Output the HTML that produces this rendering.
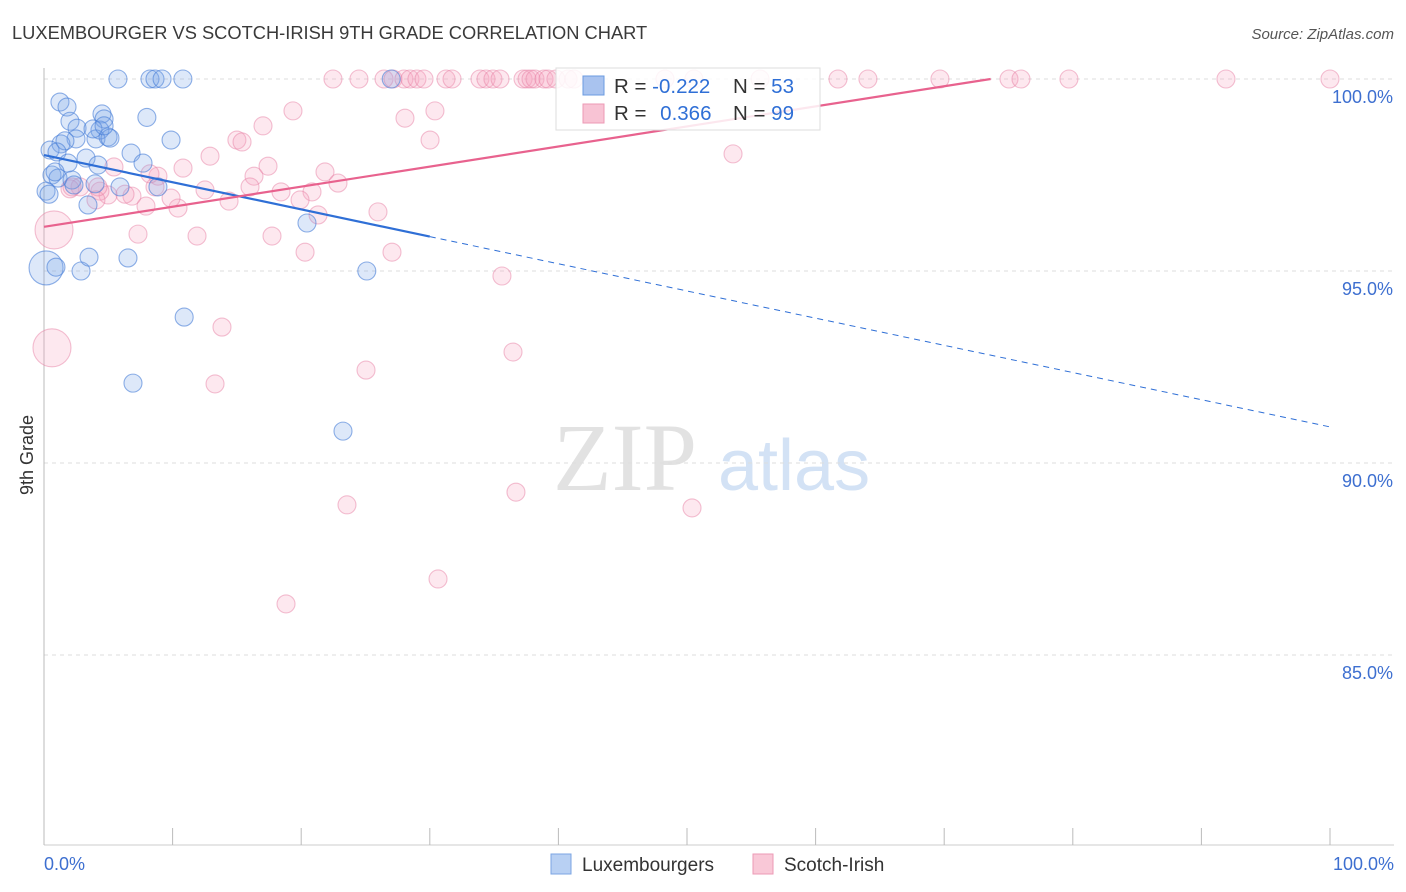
<!DOCTYPE html>
<html><head><meta charset="utf-8">
<style>
body{margin:0;background:#fff;font-family:"Liberation Sans",sans-serif;}
svg{display:block}
</style></head>
<body>
<svg id="chart" width="1406" height="892">
<text x="12" y="39" font-size="18.3" fill="#3a3a3a">LUXEMBOURGER VS SCOTCH-IRISH 9TH GRADE CORRELATION CHART</text>
<text x="1394" y="39" font-size="15" fill="#555" font-style="italic" text-anchor="end">Source: ZipAtlas.com</text>
<text x="33" y="455" font-size="18" fill="#333" text-anchor="middle" transform="rotate(-90 33 455)">9th Grade</text>
<g>
<text x="553" y="490" font-size="96" font-family="Liberation Serif,serif" fill="#e2e2e2">ZIP</text>
<text x="718" y="490" font-size="72" fill="#d3e2f5">atlas</text>
</g>
<g id="grid"></g>
<g id="axes"></g>
<g id="pts"></g>
<g id="lines"></g>
<g>
<rect x="556" y="68" width="264" height="62" fill="#fff" fill-opacity="0.85" stroke="#ddd"/>
<rect x="583" y="76" width="21" height="19" fill="#a9c3ef" stroke="#6b9be0"/>
<rect x="583" y="104" width="21" height="19" fill="#f8c3d4" stroke="#ec9ab5"/>
<text x="614" y="93" font-size="20.5" fill="#333">R = <tspan fill="#2f6fd6">-0.222</tspan></text>
<text x="733" y="93" font-size="20.5" fill="#333">N = <tspan fill="#2f6fd6">53</tspan></text>
<text x="614" y="120" font-size="20.5" fill="#333">R = <tspan fill="#2f6fd6" dx="8">0.366</tspan></text>
<text x="733" y="120" font-size="20.5" fill="#333">N = <tspan fill="#2f6fd6">99</tspan></text>
</g>
<g>
<rect x="551" y="854" width="20" height="20" fill="#b8d0f3" stroke="#7ba5e3"/>
<text x="582" y="871" font-size="19" fill="#333">Luxembourgers</text>
<rect x="753" y="854" width="20" height="20" fill="#f9c8d7" stroke="#ec9ab5"/>
<text x="784" y="871" font-size="19" fill="#333">Scotch-Irish</text>
</g>
</svg>
<script>
const yTicks=[100,95,90,85];
const yTickLabels=["100.0%","95.0%","90.0%","85.0%"];
const xTicks=[0,10,20,30,40,50,60,70,80,90,100];
const xLabels=["0.0%","100.0%"];
const luxX=[5.75,8.24,8.63,9.18,10.8,27.0,1.24,1.79,2.02,2.57,4.51,4.67,4.35,2.49,4.04,4.98,8.0,1.32,1.63,9.88,0.47,1.01,6.77,3.27,1.87,4.2,7.7,0.62,1.09,2.18,3.97,5.91,8.86,0.16,3.42,20.45,0.16,0.93,2.88,3.5,6.53,25.1,10.9,6.92,23.25,0.86,2.33,5.13,0.39,3.81,4.67];
const luxY=[100,100,100,100,100,100,99.4,99.27,98.9,98.72,99.09,98.96,98.67,98.44,98.44,98.49,99.0,98.31,98.39,98.41,98.15,98.1,98.07,97.94,97.81,97.76,97.81,97.5,97.42,97.37,97.27,97.19,97.19,97.08,96.72,96.25,95.08,95.1,95.0,95.36,95.34,95.0,93.8,92.08,90.83,97.58,97.24,98.46,97.0,98.7,98.78];
const luxSize=[1,1,1,1,1,1,1,1,1,1,1,1,1,1,1,1,1,1,1,1,1,1,1,1,1,1,1,1,1,1,1,1,1,1,1,1,2,1,1,1,1,1,1,1,1,1,1,1,1,1,1];
const scX=[22.47,24.49,26.44,27.14,27.99,28.46,29.0,29.55,31.26,31.73,33.9,34.37,34.91,35.46,37.25,37.56,37.87,38.18,38.88,39.19,39.81,40.75,41.21,48.29,50.54,55.68,61.74,64.07,69.67,75.04,75.97,79.7,91.91,100,
19.36,28.07,30.4,30.02,17.03,15.0,15.4,12.91,10.81,17.42,21.85,22.86,16.33,53.58,8.86,8.63,6.84,4.98,6.3,4.35,2.8,2.02,4.04,5.44,7.93,10.42,9.88,12.52,14.39,16.02,18.43,20.84,19.91,21.31,25.97,7.31,11.9,17.73,20.3,27.06,35.61,0.78,13.84,0.62,36.47,25.04,13.3,36.7,23.56,50.39,30.64,18.82,8.24,4.2,2.18];
const scY=[100,100,100,100,100,100,100,100,100,100,100,100,100,100,100,100,100,100,100,100,100,100,100,100,100,100,100,100,100,100,100,100,100,100,
99.17,98.98,99.17,98.41,98.78,98.41,98.36,97.99,97.68,97.73,97.58,97.29,97.47,98.05,97.47,97.19,96.95,96.98,97.0,97.08,97.19,97.14,96.85,97.71,96.69,96.64,96.9,97.11,96.82,97.19,97.06,97.06,96.85,96.46,96.54,95.96,95.91,95.91,95.49,95.49,94.87,96.07,93.54,93.0,92.89,92.42,92.06,89.24,88.91,88.83,86.98,86.33,97.53,97.19,97.19];
const scBig=[75,77];
const luxTrend=[98.02,90.94];
const scTrend=[96.15,101.38];
const luxSolidEnd=30;

const X0=44,X1=1330,Y100=79,PX_PER=38.4;
const sx=v=>X0+(X1-X0)*v/100;
const sy=v=>Y100+(100-v)*PX_PER;
const NS="http://www.w3.org/2000/svg";
function mk(tag,attrs,parent){const e=document.createElementNS(NS,tag);for(const k in attrs)e.setAttribute(k,attrs[k]);parent.appendChild(e);return e;}
const grid=document.getElementById('grid'),axes=document.getElementById('axes'),pts=document.getElementById('pts'),lines=document.getElementById('lines');
yTicks.forEach((t,i)=>{
 const l=mk('line',{x1:X0,x2:1394,y1:sy(t),y2:sy(t),stroke:'#ddd','stroke-dasharray':'4,4'},grid);
 
 
 const tx=mk('text',{x:1393,y:sy(t)+24,'font-size':18,fill:'#3d6fd0','text-anchor':'end'},axes);
 tx.textContent=yTickLabels[i];
 
 
});
const ya=mk('line',{x1:X0,x2:X0,y1:68,y2:845,stroke:'#bbb'},axes);


const xa=mk('line',{x1:X0,x2:1394,y1:845,y2:845,stroke:'#ccc'},axes);


xTicks.forEach(t=>{
 const l=mk('line',{x1:sx(t),x2:sx(t),y1:828,y2:845,stroke:'#bbb'},axes);
 
 
});
[[0,'start',44],[100,'end',1394]].forEach((d,i)=>{
 const tx=mk('text',{x:d[2],y:870,'font-size':18,fill:'#3d6fd0','text-anchor':d[1]},axes);
 tx.textContent=xLabels[i];
 
 
});
scX.forEach((v,i)=>{
 const r=scBig.includes(i)?19:9;
 const c=mk('circle',{cx:sx(v),cy:sy(scY[i]),r:r,fill:'rgba(246,165,192,0.25)',stroke:'rgba(232,130,165,0.5)','stroke-width':1.1},pts);
 
 
});
luxX.forEach((v,i)=>{
 const r=luxSize[i]>1?17:9;
 const c=mk('circle',{cx:sx(v),cy:sy(luxY[i]),r:r,fill:'rgba(120,165,232,0.25)',stroke:'rgba(70,125,215,0.6)','stroke-width':1.1},pts);
 
 
});
const lf=x=>luxTrend[0]+(luxTrend[1]-luxTrend[0])*x/100;
let l1=mk('line',{x1:sx(0),y1:sy(lf(0)),x2:sx(luxSolidEnd),y2:sy(lf(luxSolidEnd)),stroke:'#2f6fd6','stroke-width':2.2},lines);


let l2=mk('line',{x1:sx(luxSolidEnd),y1:sy(lf(luxSolidEnd)),x2:sx(100),y2:sy(lf(100)),stroke:'#2f6fd6','stroke-width':1,'stroke-dasharray':'6,5'},lines);


const sf=x=>scTrend[0]+(scTrend[1]-scTrend[0])*x/100;
const xEnd=Math.min(100,(100-scTrend[0])/(scTrend[1]-scTrend[0])*100);
let l3=mk('line',{x1:sx(0),y1:sy(sf(0)),x2:sx(xEnd),y2:sy(sf(xEnd)),stroke:'#e8628e','stroke-width':2.2},lines);


</script>
</body></html>
